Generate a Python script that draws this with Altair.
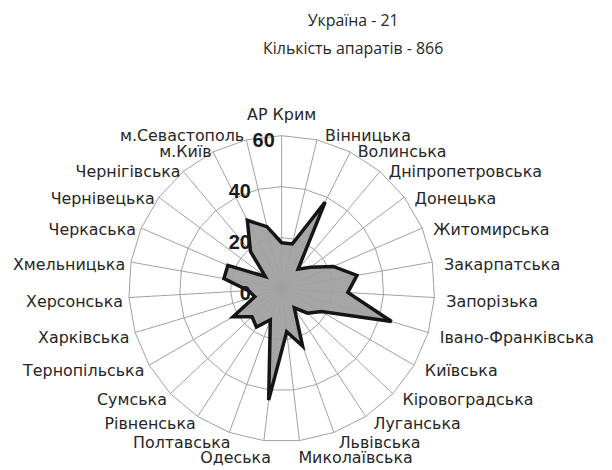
import altair as alt
import pandas as pd

# ---------------- data ----------------
regions = ["АР Крим", "Вінницька", "Волинська", "Дніпропетровська", "Донецька",
           "Житомирська", "Закарпатська", "Запорізька", "Івано-Франківська",
           "Київська", "Кіровоградська", "Луганська", "Львівська", "Миколаївська",
           "Одеська", "Полтавська", "Рівненська", "Сумська", "Тернопільська",
           "Харківська", "Херсонська", "Хмельницька", "Черкаська", "Чернівецька",
           "Чернігівська", "м.Київ", "м.Севастополь"]
values = [18, 18, 38, 10, 14, 22, 30, 26, 45, 18, 14, 9, 24, 17,
          44, 13, 18, 16, 22, 11, 13, 23, 23, 8, 19, 30, 25]
ticks = [0, 20, 40, 60]
rings = [20, 40, 60]
title_lines = ["Україна - 21", "Кількість апаратів - 866"]

N = len(regions)
R_MAX = 60
SIZE = 308                 # plot diameter in px
K = (SIZE / 2) / R_MAX      # px per unit

poly_df = pd.DataFrame({"idx": list(range(N)), "region": regions, "value": values})
ring_df = pd.DataFrame([{"ring": r, "idx": i} for r in rings for i in range(N)])
spoke_df = pd.DataFrame({"idx": list(range(N))})
label_df = pd.DataFrame({"idx": list(range(N)), "region": regions})
tick_df = pd.DataFrame({"t": ticks, "label": [str(t) for t in ticks]})

ANG = f"2*PI*datum.idx/{N}"
scale = alt.Scale(domain=[-R_MAX, R_MAX], nice=False, zero=False)


def X(f):
    return alt.X(f, type="quantitative", scale=scale, axis=None)


def Y(f):
    return alt.Y(f, type="quantitative", scale=scale, axis=None)


GRID = "#a0a0a0"
LABEL_FONT = "DejaVu Sans"
TITLE_FONT = "Open Sans"

poly_base = alt.Chart(poly_df).transform_calculate(a=ANG).transform_calculate(
    px="datum.value*sin(datum.a)", py="datum.value*cos(datum.a)")

fill = poly_base.mark_line(interpolate="linear-closed", fill="#a6a6a6",
                           strokeOpacity=0).encode(
    x=X("px"), y=Y("py"), order="idx:Q")

outline = poly_base.mark_line(interpolate="linear-closed", color="#151515",
                              strokeWidth=3.5, strokeJoin="miter").encode(
    x=X("px"), y=Y("py"), order="idx:Q")

ring_layer = alt.Chart(ring_df).transform_calculate(a=ANG).transform_calculate(
    px="datum.ring*sin(datum.a)", py="datum.ring*cos(datum.a)"
).mark_line(interpolate="linear-closed", color=GRID, strokeWidth=1).encode(
    x=X("px"), y=Y("py"), detail="ring:N", order="idx:Q")

spokes = alt.Chart(spoke_df).transform_calculate(a=ANG).transform_calculate(
    zero="0", ex=f"{R_MAX}*sin(datum.a)", ey=f"{R_MAX}*cos(datum.a)"
).mark_rule(color=GRID, strokeWidth=1).encode(
    x=X("zero"), y=Y("zero"), x2="ex:Q", y2="ey:Q")

# category labels placed just outside the outer ring
lab_base = alt.Chart(label_df).transform_calculate(a=ANG).transform_calculate(
    s="sin(datum.a)", c="cos(datum.a)"
).transform_calculate(
    sg="datum.s > 0.01 ? 1 : (datum.s < -0.01 ? -1 : 0)",
    cg="datum.c >= 0 ? 1 : -1",
    pw="pow(abs(datum.c), 24)"
).transform_calculate(
    lx=f"(datum.sg == 0 ? 0 : 163*datum.s + 3 + datum.sg*6*datum.cg*datum.pw)/{K}",
    ly=f"(datum.sg == 0 ? 175 : 158*datum.c - 4 + (datum.cg > 0 ? 8 : 11)*datum.cg*datum.pw)/{K}"
)

lab_kw = dict(baseline="middle", font=LABEL_FONT, fontSize=16, color="#262626")
labels_right = lab_base.transform_filter("datum.sg == 1").mark_text(
    align="left", **lab_kw).encode(x=X("lx"), y=Y("ly"), text="region:N")
labels_left = lab_base.transform_filter("datum.sg == -1").mark_text(
    align="right", **lab_kw).encode(x=X("lx"), y=Y("ly"), text="region:N")
labels_top = lab_base.transform_filter("datum.sg == 0").mark_text(
    align="center", **lab_kw).encode(x=X("lx"), y=Y("ly"), text="region:N")

tick_labels = alt.Chart(tick_df).transform_calculate(
    tx=f"(datum.t == {R_MAX} ? -7 : -31)/{K}",
    ty=f"datum.t - 5/{K}"
).mark_text(align="right", baseline="middle", font="Liberation Sans",
            fontWeight="bold", fontSize=20, color="#1a1a1a").encode(
    x=X("tx"), y=Y("ty"), text="label:N")

chart = alt.layer(
    fill, ring_layer, spokes, outline,
    labels_right, labels_left, labels_top, tick_labels
).properties(
    width=SIZE, height=SIZE,
    title=alt.TitleParams(title_lines, font=TITLE_FONT, fontSize=16,
                          fontWeight="normal", color="#262626",
                          anchor="middle", dx=72, offset=50, lineHeight=28),
    padding={"left": 121.5, "top": 127, "right": 170.5, "bottom": 27},
    autosize="none",
).configure_view(stroke=None)

chart.save("out.html", embed_options={"renderer": "svg", "actions": False})
